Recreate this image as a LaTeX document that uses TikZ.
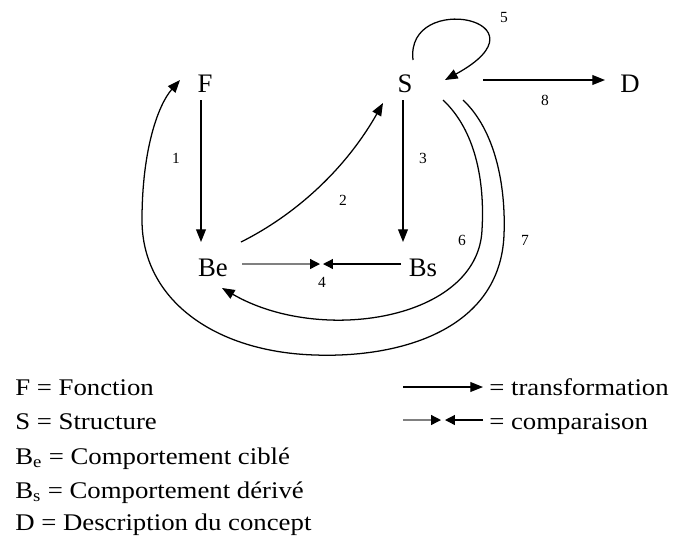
\documentclass[tikz,border=0pt]{standalone}
\usepackage{fontspec}
\setmainfont{Liberation Serif}
\newfontfamily\keyfont{Liberation Serif}[FakeStretch=1.12]
\usetikzlibrary{arrows.meta,calc}

\begin{document}
\begin{tikzpicture}[
  x=0.025cm, y=-0.025cm,
  concept/.style={inner sep=0pt, font=\fontsize{19}{22}\selectfont},
  num/.style={inner sep=0pt, font=\fontsize{11}{13}\selectfont},
  legend/.style={anchor=base west, inner sep=0pt, font=\keyfont\fontsize{17}{20}\selectfont},
  trans/.style={-{Triangle[length=9pt,width=7pt]}, line width=0.9pt},
  comp/.style={-{Triangle[length=7pt,width=7pt,color=black]}, line width=0.9pt}
]
  \useasboundingbox (0,0) rectangle (674,535);

  \node[concept] (F) at (205,84) {F};
  \node[concept] (S) at (405,84) {S};
  \node[concept] (D) at (630,84) {D};
  \node[concept] (Be) at (213,268) {Be};
  \node[concept] (Bs) at (423,268) {Bs};
  \coordinate (cmp) at (321.5,264);

  \draw[trans] ($(F)+(-4,16)$) -- ($(Be)+(-12,-26)$);
  \draw[trans] ($(Be)+(28,-26)$) .. controls (295,215) and (345,170) .. ($(S)+(-22,19)$);
  \draw[trans] ($(S)+(-2,16)$) -- ($(Bs)+(-20,-26)$);
  \draw[comp,gray] ($(Be)+(29,-4)$) -- ($(cmp)+(-1.5,0)$);
  \draw[comp] ($(Bs)+(-22,-4)$) -- ($(cmp)+(1.5,0)$);
  \draw[trans] ($(S)+(8,-24)$) .. controls (405,-10) and (555,20) .. ($(S)+(40,-4)$);
  \draw[trans] ($(S)+(78,-4)$) -- ($(D)+(-25,-4)$);
  \draw[trans] ($(S)+(38,16)$) .. controls (475,130) and (485,180) .. (482,230)
    .. controls (478,320) and (320,345) .. ($(Be)+(9,20)$);
  \draw[trans] ($(S)+(58,16)$) .. controls (495,130) and (506,185) .. (504,235)
    .. controls (500,330) and (400,358) .. (315,355)
    .. controls (215,352) and (142,300) .. (142,220)
    .. controls (142,150) and (158,105) .. ($(F)+(-25,-4)$);

  \node[num] (n1) at (176,158) {1};
  \node[num] (n2) at (343,200) {2};
  \node[num] (n3) at (423,158) {3};
  \node[num] (n4) at (322,282) {4};
  \node[num] (n5) at (504,18) {5};
  \node[num] (n6) at (462,240) {6};
  \node[num] (n7) at (525,240) {7};
  \node[num] (n8) at (545,100) {8};

  \node[legend] (lF) at (15,395) {F = Fonction};
  \node[legend] (lS) at (15,429) {S = Structure};
  \node[legend] (lBe) at (15,464) {B\textsubscript{e} = Comportement ciblé};
  \node[legend] (lBs) at (15,498) {B\textsubscript{s} = Comportement dérivé};
  \node[legend] (lD) at (15,530) {D = Description du concept};
  \node[legend] (ltrans) at (489,395) {= transformation};
  \node[legend] (lcomp) at (489,429) {= comparaison};

  \draw[trans] ($(ltrans.base west)+(-86,-8)$) -- ($(ltrans.base west)+(-6,-8)$);
  \draw[comp,gray] ($(lcomp.base west)+(-86,-9)$) -- ($(lcomp.base west)+(-48,-9)$);
  \draw[comp] ($(lcomp.base west)+(-6,-9)$) -- ($(lcomp.base west)+(-44,-9)$);
\end{tikzpicture}
\end{document}
